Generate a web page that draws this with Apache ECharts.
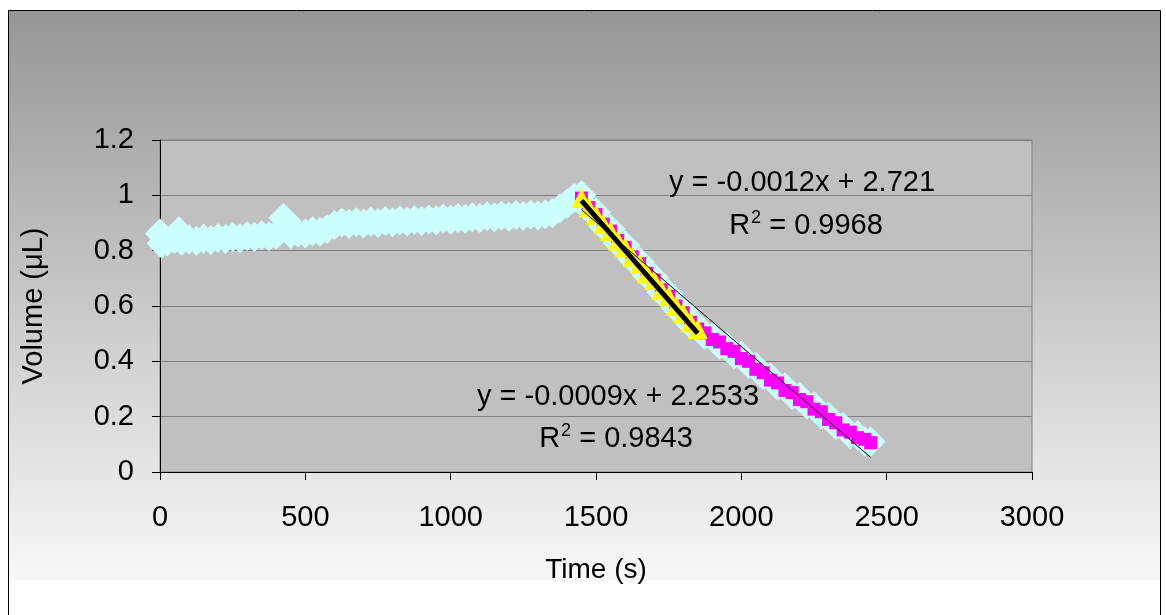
<!DOCTYPE html>
<html>
<head>
<meta charset="utf-8">
<script src="https://cdn.jsdelivr.net/npm/echarts@6/dist/echarts.min.js"></script>
<style>
  html, body { margin: 0; padding: 0; background: #ffffff; }
  #chart { width: 1166px; height: 615px; }
</style>
</head>
<body>
<div id="chart"></div>
<script>
// Whole-run volume, cyan trace (s, µL)
const allTime = [0, 5, 25, 50, 65, 75, 100, 125, 150, 175, 200, 225, 250, 275, 300, 325, 350, 375, 400, 425,
  450, 475, 500, 525, 550, 575, 600, 625, 650, 675, 700, 725, 750, 775, 800, 825, 850, 875, 900, 925,
  950, 975, 1000, 1025, 1050, 1075, 1100, 1125, 1150, 1175, 1200, 1225, 1250, 1275, 1300, 1325, 1350, 1375, 1400, 1425,
  1450, 1475, 1500, 1525, 1550, 1575, 1600, 1625, 1650, 1675, 1700, 1725, 1750, 1775, 1800, 1825, 1850,
  1875, 1900, 1925, 1950, 1975, 2000, 2025, 2050, 2075, 2100, 2125, 2150, 2175, 2200, 2225, 2250, 2275, 2300, 2325,
  2350, 2375, 2400, 2425, 2445];
const allVol = [0.862, 0.826, 0.833, 0.842, 0.870, 0.836, 0.840, 0.836, 0.843, 0.839, 0.846, 0.842, 0.849, 0.845, 0.853, 0.849, 0.856, 0.852, 0.858, 0.918,
  0.860, 0.866, 0.862, 0.870, 0.868, 0.878, 0.893, 0.902, 0.897, 0.903, 0.898, 0.905, 0.900, 0.907, 0.903, 0.909, 0.905, 0.911, 0.907, 0.913,
  0.910, 0.916, 0.912, 0.918, 0.915, 0.921, 0.918, 0.924, 0.921, 0.927, 0.923, 0.929, 0.925, 0.930, 0.927, 0.932, 0.935, 0.952, 0.970, 0.990,
  1.000, 0.950, 0.938, 0.888, 0.878, 0.828, 0.820, 0.770, 0.760, 0.710, 0.702, 0.650, 0.643, 0.592, 0.584, 0.534, 0.525,
  0.494, 0.488, 0.460, 0.455, 0.426, 0.420, 0.390, 0.380, 0.350, 0.342, 0.312, 0.306, 0.278, 0.272, 0.244, 0.238, 0.208, 0.200, 0.170,
  0.163, 0.136, 0.133, 0.110, 0.110];

// Volume during evaporation, magenta trace (s, µL)
const fallTime = [1450, 1475, 1500, 1525, 1550, 1575, 1600, 1625, 1650, 1675, 1700, 1725, 1750, 1775, 1800, 1825, 1850,
  1875, 1900, 1925, 1950, 1975, 2000, 2025, 2050, 2075, 2100, 2125, 2150, 2175, 2200, 2225, 2250, 2275, 2300, 2325,
  2350, 2375, 2400, 2425, 2445];
const fallVol = [0.990, 0.956, 0.930, 0.896, 0.871, 0.837, 0.812, 0.778, 0.753, 0.718, 0.694, 0.659, 0.635, 0.600, 0.576, 0.541, 0.517,
  0.503, 0.479, 0.470, 0.446, 0.436, 0.410, 0.400, 0.371, 0.359, 0.332, 0.322, 0.295, 0.287, 0.262, 0.254, 0.227, 0.218, 0.190, 0.178,
  0.152, 0.144, 0.124, 0.118, 0.106];

// End of the early, linear part of evaporation (yellow trace)
const earlyEnd = 1850;

// Linear fits: [early part, whole evaporation]
const fitSlope = [-0.0012, -0.0009];
const fitIntercept = [2.721, 2.2533];
const fitR2 = ['0.9968', '0.9843'];

// Axis ticks
const xTicks = [0, 500, 1000, 1500, 2000, 2500, 3000];
const yTicks = [0, 0.2, 0.4, 0.6, 0.8, 1, 1.2];

const FONT = '"Liberation Sans", Arial, sans-serif';

const allPts = allTime.map((t, i) => [t, allVol[i]]);
const fallPts = fallTime.map((t, i) => [t, fallVol[i]]);
const earlyPts = fallPts.filter(p => p[0] <= earlyEnd);

function fitLine(k, x0, x1) {
  return [[x0, fitSlope[k] * x0 + fitIntercept[k]], [x1, fitSlope[k] * x1 + fitIntercept[k]]];
}
function eqText(k) {
  const s = fitSlope[k] < 0 ? '-' + String(-fitSlope[k]) : String(fitSlope[k]);
  return 'y = ' + s + 'x + ' + fitIntercept[k];
}

const chart = echarts.init(document.getElementById('chart'), null, { renderer: 'canvas' });

const eqStyle = { fontSize: 29, fontFamily: FONT, fill: '#000' };
function r2Label(k, x, y) {
  return {
    type: 'text', x: x, y: y, z: 100,
    style: {
      text: '{r|R}{s|2}{r| = ' + fitR2[k] + '}',
      align: 'center', verticalAlign: 'middle',
      rich: {
        r: { fontSize: 29, fontFamily: FONT, color: '#000', lineHeight: 34 },
        s: { fontSize: 18, fontFamily: FONT, color: '#000', verticalAlign: 'top', lineHeight: 34, padding: [0, 0, 0, 1] }
      }
    }
  };
}

chart.setOption({
  animation: false,
  graphic: [
    {
      type: 'rect', z: -10, silent: true,
      shape: { x: 8.5, y: 10.5, width: 1152, height: 570 },
      style: {
        fill: new echarts.graphic.LinearGradient(0, 0, 0, 1, [
          { offset: 0, color: '#969696' },
          { offset: 1, color: '#f8f8f8' }
        ]),
        stroke: null
      }
    },
    {
      type: 'rect', z: -9, silent: true,
      shape: { x: 8.5, y: 10.5, width: 1152, height: 700 },
      style: { fill: null, stroke: '#000', lineWidth: 1 }
    },
    { type: 'text', x: 802, y: 183, z: 100, style: Object.assign({ text: eqText(0), align: 'center', verticalAlign: 'middle' }, eqStyle) },
    r2Label(0, 806, 226),
    { type: 'text', x: 618, y: 397, z: 100, style: Object.assign({ text: eqText(1), align: 'center', verticalAlign: 'middle' }, eqStyle) },
    r2Label(1, 616, 439)
  ],
  grid: {
    left: 160, right: 134, top: 140, bottom: 143,
    show: true, backgroundColor: '#c0c0c0', borderColor: '#808080', borderWidth: 1
  },
  xAxis: {
    type: 'value', min: xTicks[0], max: xTicks[xTicks.length - 1], interval: xTicks[1] - xTicks[0],
    name: 'Time (s)', nameLocation: 'middle', nameGap: 84,
    nameTextStyle: { fontSize: 28, fontFamily: FONT, color: '#000' },
    axisLine: { show: true, onZero: false, lineStyle: { color: '#000', width: 1 } },
    axisTick: { show: true, inside: false, length: 8, lineStyle: { color: '#000' } },
    axisLabel: { fontSize: 29, fontFamily: FONT, color: '#000', margin: 31, formatter: v => String(v) },
    splitLine: { show: false }
  },
  yAxis: {
    type: 'value', min: yTicks[0], max: yTicks[yTicks.length - 1], interval: 0.2,
    name: 'Volume (\u03bcL)', nameLocation: 'middle', nameGap: 112,
    nameTextStyle: { fontSize: 29, fontFamily: FONT, color: '#000' },
    axisLine: { show: true, onZero: false, lineStyle: { color: '#000', width: 1 } },
    axisTick: { show: true, inside: false, length: 8, lineStyle: { color: '#000' } },
    axisLabel: { fontSize: 29, fontFamily: FONT, color: '#000', margin: 26, formatter: v => String(v) },
    splitLine: { show: true, lineStyle: { color: '#808080', width: 1 } }
  },
  series: [
    {
      name: 'all', type: 'scatter', data: allPts,
      symbol: 'diamond', symbolSize: 30,
      itemStyle: { color: '#ccffff', opacity: 1 }, z: 2
    },
    {
      name: 'evaporation', type: 'scatter', data: fallPts,
      symbol: 'rect', symbolSize: 13,
      itemStyle: { color: '#ff00ff', opacity: 1 }, z: 3
    },
    {
      name: 'early', type: 'scatter', data: earlyPts,
      symbol: 'triangle', symbolSize: 20,
      itemStyle: { color: '#ffff00', opacity: 1 }, z: 4
    },
    {
      name: 'fit whole', type: 'line', data: fitLine(1, fallTime[0], fallTime[fallTime.length - 1]),
      symbol: 'none', lineStyle: { color: '#000', width: 1 }, z: 5
    },
    {
      name: 'fit early', type: 'line', data: fitLine(0, earlyPts[0][0], earlyPts[earlyPts.length - 1][0]),
      symbol: 'none', lineStyle: { color: '#000', width: 5 }, z: 6
    }
  ]
});
</script>
</body>
</html>
